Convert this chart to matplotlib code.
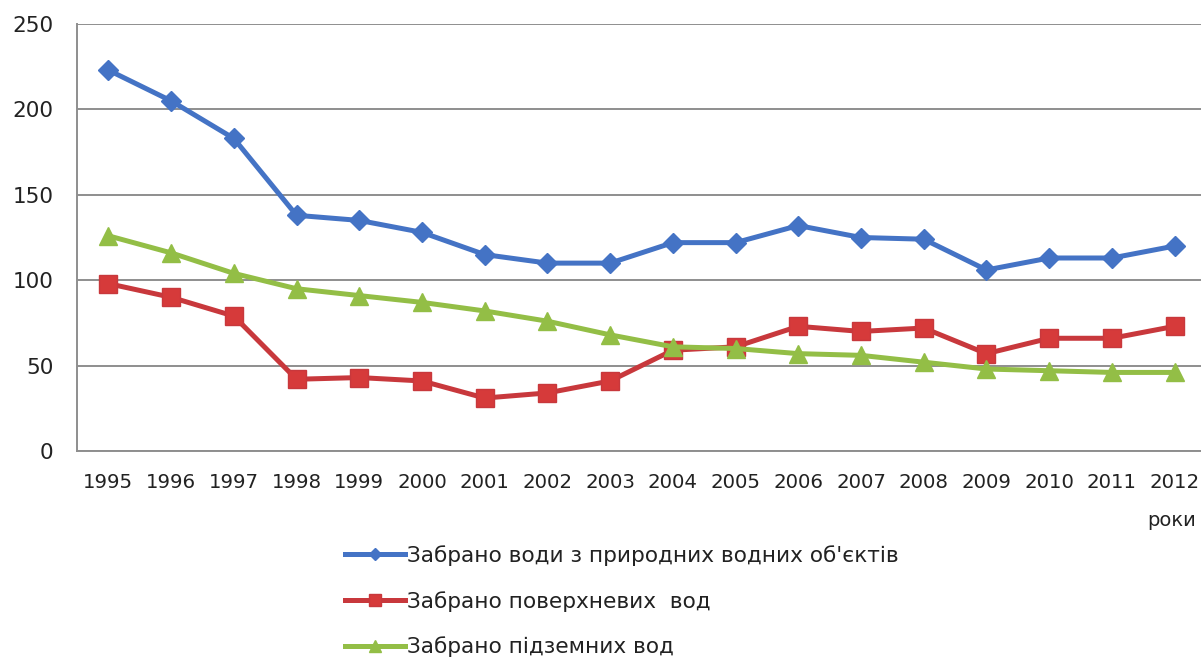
import matplotlib
matplotlib.use("Agg")
import matplotlib.pyplot as plt
from matplotlib.lines import Line2D

# Water withdrawal by year
years = [str(y) for y in range(1995, 2013)]
total_withdrawn = [223, 205, 183, 138, 135, 128, 115, 110, 110, 122, 122, 132,
                   125, 124, 106, 113, 113, 120]
surface_withdrawn = [98, 90, 79, 42, 43, 41, 31, 34, 41, 59, 61, 73,
                     70, 72, 57, 66, 66, 73]
ground_withdrawn = [126, 116, 104, 95, 91, 87, 82, 76, 68, 61, 60, 57,
                    56, 52, 48, 47, 46, 46]

labels = ["Забрано води з природних водних об'єктів",
          "Забрано поверхневих  вод",
          "Забрано підземних вод"]
y_ticks = [0, 50, 100, 150, 200, 250]

blue = "#4473C5"
red_line = "#C8383C"
red_mark = "#D63A3A"
green = "#93BE46"
grid_col = "#8E8E8E"

W, H = 1201, 666
fig = plt.figure(figsize=(W / 100, H / 100), dpi=100)
left, right, top, bottom = 77, 1206, 24, 451
ax = fig.add_axes([left / W, 1 - bottom / H, (right - left) / W, (bottom - top) / H])

x = list(range(len(years)))
ax.plot(x, total_withdrawn, color=blue, lw=3.6, marker="D", ms=10.5,
        mfc=blue, mec=blue, label=labels[0], zorder=4)
ax.plot(x, surface_withdrawn, color=red_line, lw=3.6, marker="s", ms=13,
        mfc=red_mark, mec=red_line, label=labels[1], zorder=3)
ax.plot(x, ground_withdrawn, color=green, lw=3.6, marker="^", ms=13,
        mfc=green, mec=green, label=labels[2], zorder=5)

ax.set_xlim(-0.5, len(years) - 0.5)
ax.set_ylim(0, 250)
ax.set_yticks(y_ticks)
ax.set_xticks(x)
ax.set_xticklabels(years)
ax.yaxis.grid(True, color=grid_col, lw=1.4)
ax.set_axisbelow(True)
for s in ("top", "right"):
    ax.spines[s].set_visible(False)
for s in ("left", "bottom"):
    ax.spines[s].set_color(grid_col)
    ax.spines[s].set_linewidth(1.4)
ax.tick_params(axis="y", length=0, pad=17, labelsize=15.5, labelcolor="#222222")
ax.tick_params(axis="x", length=0, pad=16, labelsize=14.2, labelcolor="#222222")

fig.text(1196 / W, 1 - 521 / H, "роки", ha="right", va="center",
         fontsize=14, color="#222222")

handles = [
    Line2D([], [], color=blue, lw=3.6, marker="D", ms=6, mfc=blue, mec=blue),
    Line2D([], [], color=red_line, lw=3.6, marker="s", ms=8, mfc=red_mark, mec=red_line),
    Line2D([], [], color=green, lw=3.6, marker="^", ms=8, mfc=green, mec=green),
]
fig.legend(handles, labels, loc="upper left",
           bbox_to_anchor=(345 / W, 1 - 545 / H), frameon=False,
           fontsize=15.6, handlelength=2.75, handletextpad=0.1,
           labelspacing=1.15, borderpad=0, borderaxespad=0,
           labelcolor="#222222")

fig.savefig("out.png", dpi=100)
